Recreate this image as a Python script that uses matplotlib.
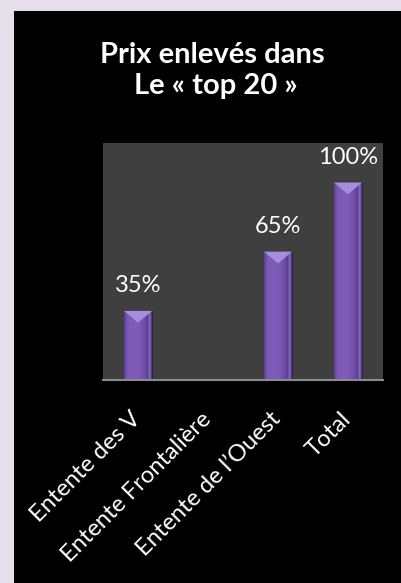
import matplotlib
matplotlib.use('Agg')
import numpy as np
import matplotlib.pyplot as plt
from matplotlib.patches import Rectangle, Polygon
from matplotlib.colors import LinearSegmentedColormap

# données du graphique
categories = ['Entente des V', 'Entente Frontalière', 'Entente de l\u2019Ouest', 'Total']
valeurs = [35, 0, 65, 100]
etiquettes = ['35%', '', '65%', '100%']

plt.rcParams['font.family'] = ['Lato', 'DejaVu Sans']

fig = plt.figure(figsize=(4.01, 5.83), dpi=100)
fig.patch.set_facecolor('#E6E0EC')
# panneau noir
fig.patches.append(Rectangle((14 / 401, 0), 1, 1 - 11 / 583, transform=fig.transFigure,
                             facecolor='black', edgecolor='none', zorder=-10))

ax = fig.add_axes([103 / 401, 1 - 380 / 583, 280 / 401, 237 / 583])
ax.set_facecolor('#3F3F3F')

x = list(range(len(categories)))
largeur = 0.4
bars = ax.bar(x, valeurs, width=largeur, color='#7A57B3', edgecolor='#2E1F4A',
              linewidth=0.8, zorder=2)

# dégradé horizontal dans les barres
degrade = LinearSegmentedColormap.from_list('violet', [
    (0.0, '#5C3F8E'), (0.12, '#7C5AB6'), (0.5, '#7F5CBA'),
    (0.75, '#6E4DA6'), (0.86, '#5A3E8A'), (0.92, '#8C70C4'), (1.0, '#4A3275')])
grad = np.linspace(0, 1, 64).reshape(1, -1)
for b in bars:
    if b.get_height() <= 0:
        continue
    im = ax.imshow(grad, cmap=degrade, aspect='auto', zorder=2.5,
                   extent=[b.get_x(), b.get_x() + b.get_width(), 0, b.get_height()])
    im.set_clip_path(b)

# reflet en haut des barres
for xi, v in zip(x, valeurs):
    if v <= 0:
        continue
    tri = Polygon([(xi - largeur / 2, v), (xi + largeur / 2, v), (xi, v - 6)],
                  closed=True, facecolor='#A88CDD', edgecolor='none', zorder=3)
    ax.add_patch(tri)

for xi, v, lab in zip(x, valeurs, etiquettes):
    if lab:
        ax.annotate(lab, (xi, v), xytext=(0, 13.5), textcoords='offset points',
                    ha='center', va='baseline', color='white', fontsize=17)

ax.set_xlim(-0.5, 3.5)
ax.set_ylim(0, 120)
ax.set_yticks([])
ax.set_xticks(x)
ax.set_xticklabels([])
ax.tick_params(axis='x', length=0)
# étiquettes de catégories inclinées
for xi, cat in zip(x, categories):
    ax.annotate(cat, (xi, 0), xytext=(3, -29), textcoords='offset points',
                ha='right', va='baseline', rotation=45, rotation_mode='anchor',
                color='white', fontsize=17, annotation_clip=False)

for s in ['top', 'right', 'left']:
    ax.spines[s].set_visible(False)
ax.spines['bottom'].set_color('#8C8C8C')
ax.spines['bottom'].set_linewidth(1.5)
ax.spines['bottom'].set_zorder(4)

fig.text(212 / 401, 1 - 63 / 583, 'Prix enlevés dans', ha='center', va='baseline',
         color='white', fontsize=21, fontweight='bold')
fig.text(216 / 401, 1 - 94 / 583, 'Le « top 20 »', ha='center', va='baseline',
         color='white', fontsize=21, fontweight='bold')

fig.savefig('out.png', dpi=100, facecolor=fig.get_facecolor())
